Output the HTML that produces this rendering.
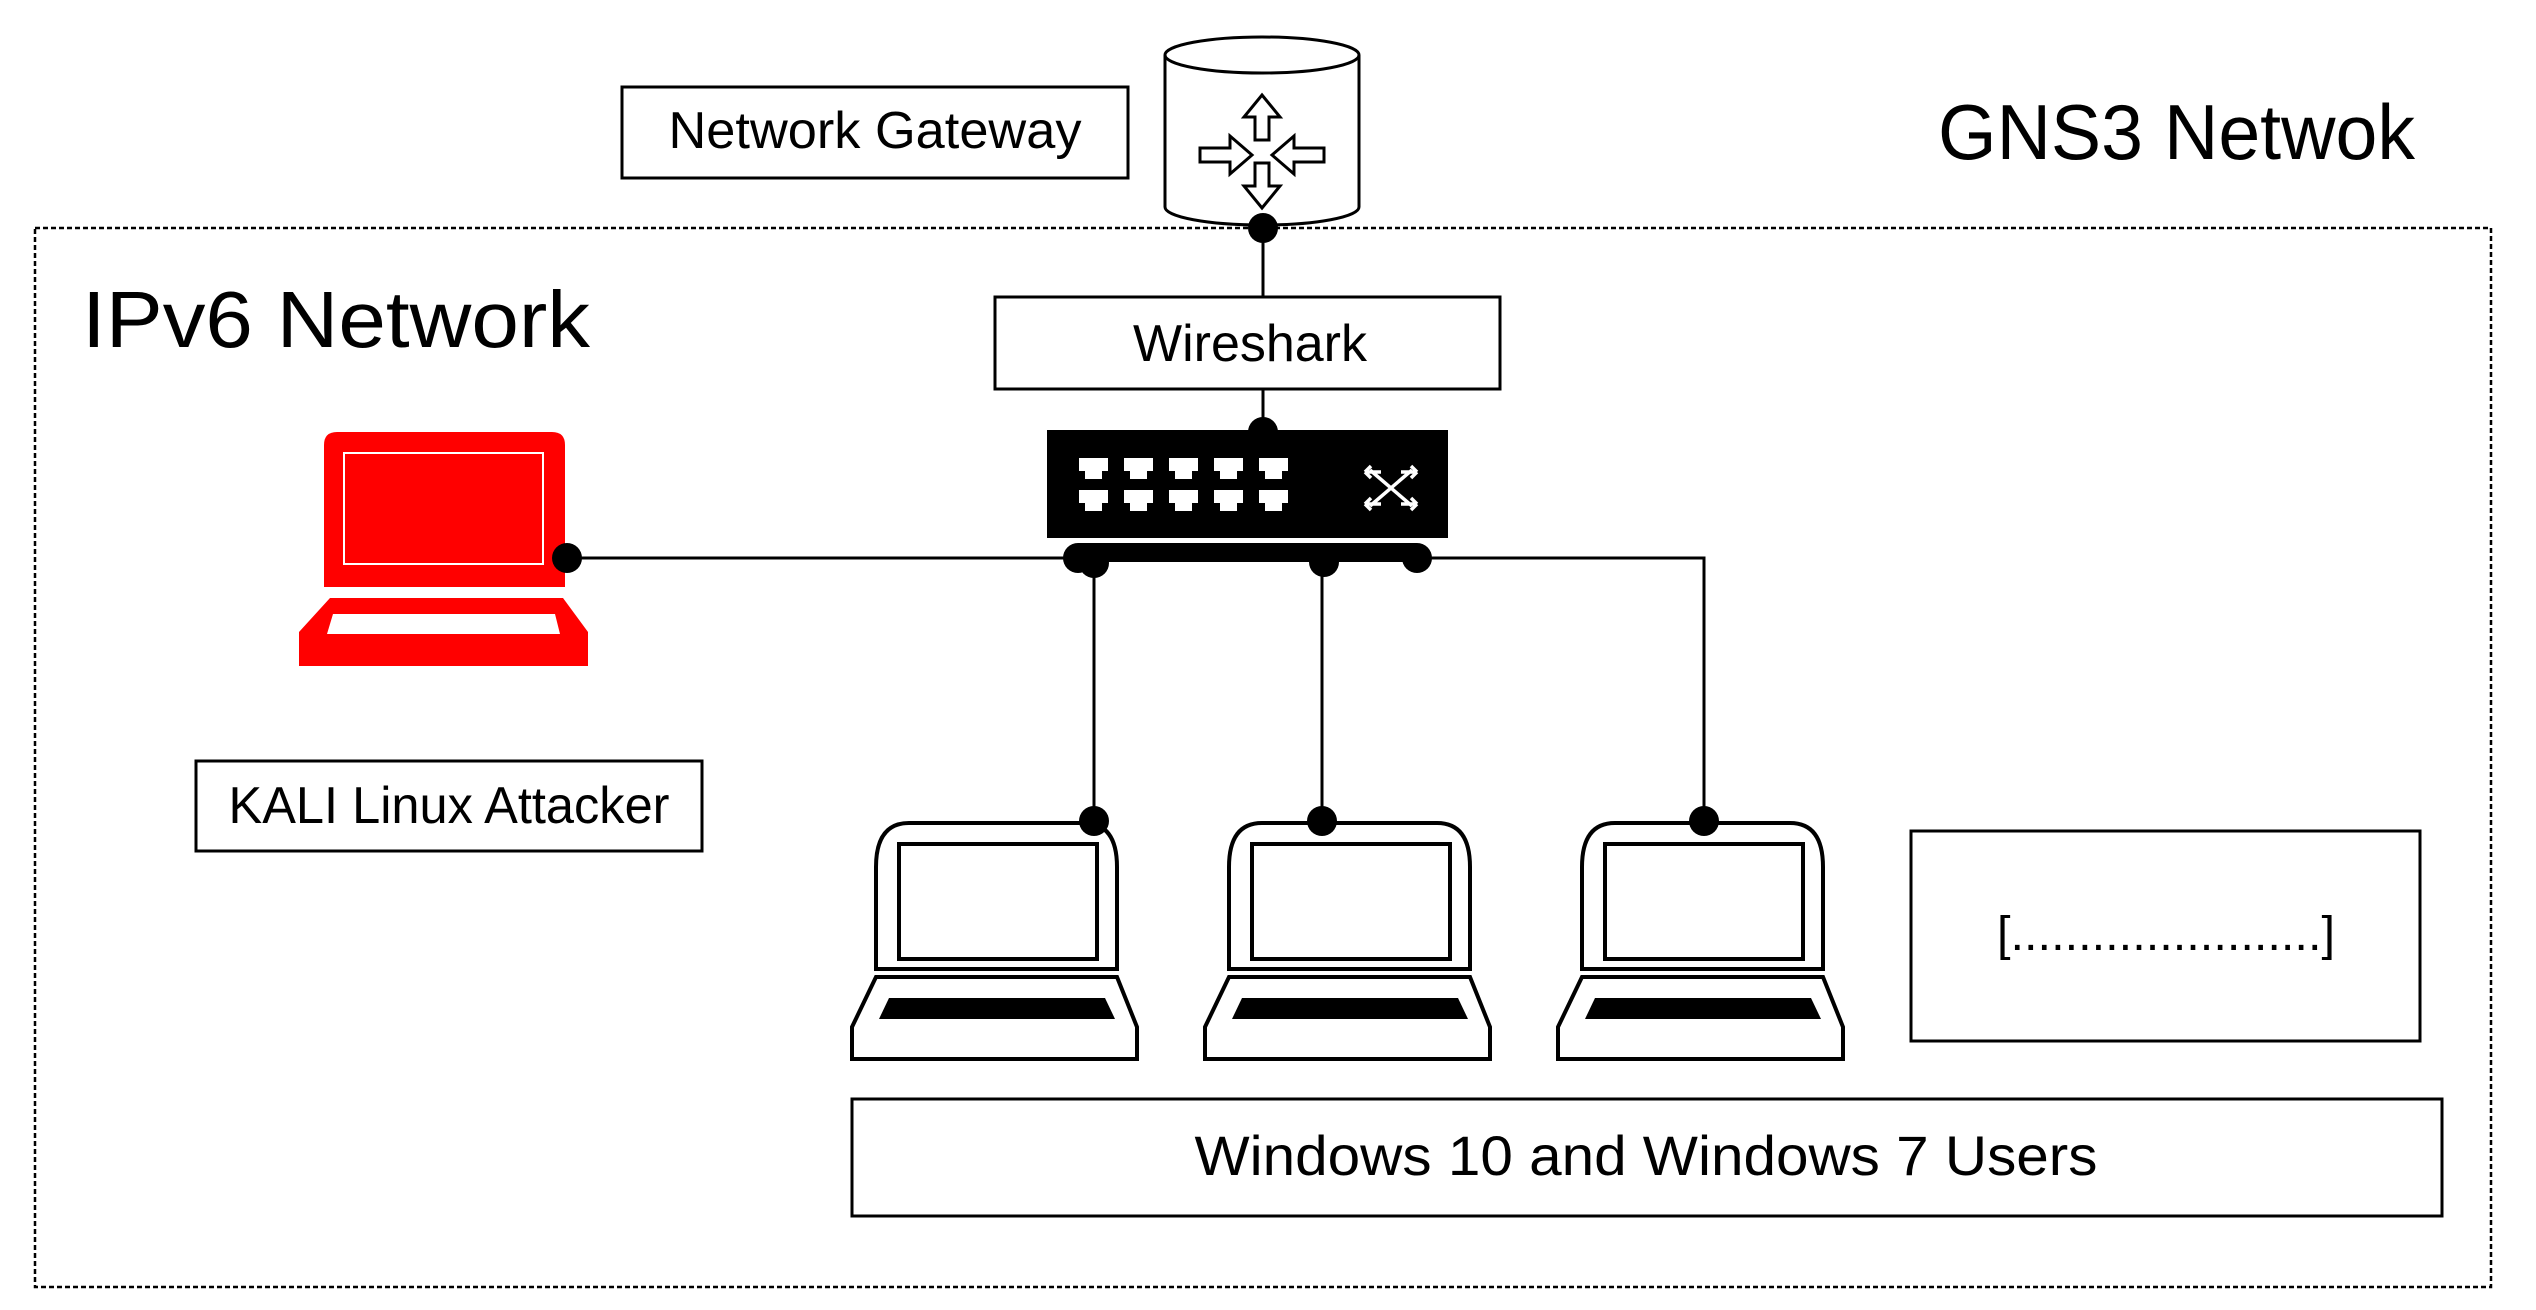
<!DOCTYPE html>
<html><head><meta charset="utf-8"><style>html,body{margin:0;padding:0;background:#fff}svg{display:block}</style></head>
<body>
<svg width="2536" height="1310" viewBox="0 0 2536 1310" xmlns="http://www.w3.org/2000/svg" font-family="Liberation Sans, sans-serif">
<defs>
<g id="lap">
  <path d="M27 48 Q27 4 60 4 L235 4 Q268 4 268 48 L268 150 L27 150 Z" fill="#fff" stroke="#000" stroke-width="4"/>
  <rect x="50" y="25" width="198" height="115" fill="#fff" stroke="#000" stroke-width="4"/>
  <path d="M27 158 L268 158 L288 208 L288 240 L3 240 L3 208 Z" fill="#fff" stroke="#000" stroke-width="4"/>
  <path d="M40 179 L256 179 L266 200 L30 200 Z" fill="#000"/>
</g>
</defs>
<rect x="35" y="228" width="2456" height="1059" fill="none" stroke="#000" stroke-width="2.5" stroke-dasharray="5 3"/>
<text x="1938" y="159" font-size="78" textLength="477" lengthAdjust="spacingAndGlyphs">GNS3 Netwok</text>
<text x="82" y="347" font-size="80" textLength="508" lengthAdjust="spacingAndGlyphs">IPv6 Network</text>

<rect x="622" y="87" width="506" height="91" fill="#fff" stroke="#000" stroke-width="3"/>
<text x="875" y="148" font-size="52" text-anchor="middle" textLength="413" lengthAdjust="spacingAndGlyphs">Network Gateway</text>

<!-- router -->
<path d="M1165 55 L1165 207 A97 18 0 0 0 1359 207 L1359 55" fill="#fff" stroke="#000" stroke-width="3"/>
<ellipse cx="1262" cy="55" rx="97" ry="18" fill="#fff" stroke="#000" stroke-width="3"/>
<g fill="#fff" stroke="#000" stroke-width="3" stroke-linejoin="miter">
  <path d="M1262 95 L1280 117 L1269 117 L1269 140 L1255 140 L1255 117 L1244 117 Z"/>
  <path d="M1262 208 L1280 186 L1269 186 L1269 163 L1255 163 L1255 186 L1244 186 Z"/>
  <path d="M1252 155 L1230 136 L1230 148 L1200 148 L1200 162 L1230 162 L1230 174 Z"/>
  <path d="M1272 155 L1294 136 L1294 148 L1324 148 L1324 162 L1294 162 L1294 174 Z"/>
</g>

<line x1="1263" y1="228" x2="1263" y2="297" stroke="#000" stroke-width="3"/>
<rect x="995" y="297" width="505" height="92" fill="#fff" stroke="#000" stroke-width="3"/>
<text x="1250" y="361" font-size="52" text-anchor="middle" textLength="234" lengthAdjust="spacingAndGlyphs">Wireshark</text>
<line x1="1263" y1="389" x2="1263" y2="432" stroke="#000" stroke-width="3"/>

<!-- switch -->
<rect x="1047" y="430" width="401" height="108" fill="#000"/>
<g fill="#fff">
  <g id="port"><path d="M1079 458 h29 v13 h-6 v8 h-17 v-8 h-6 z"/></g>
  <use href="#port" x="45"/><use href="#port" x="90"/><use href="#port" x="135"/><use href="#port" x="180"/>
  <use href="#port" y="32"/><use href="#port" x="45" y="32"/><use href="#port" x="90" y="32"/><use href="#port" x="135" y="32"/><use href="#port" x="180" y="32"/>
</g>
<g stroke="#fff" stroke-width="3.5" fill="none">
  <path d="M1370 470 L1412 506 M1412 470 L1370 506 M1365 472 h16 M1365 472 l6 -6 M1365 472 l6 6 M1417 472 h-16 M1417 472 l-6 -6 M1417 472 l-6 6 M1365 504 h16 M1365 504 l6 -6 M1365 504 l6 6 M1417 504 h-16 M1417 504 l-6 -6 M1417 504 l-6 6"/>
</g>
<rect x="1078" y="543" width="339" height="19" fill="#000"/>

<!-- wires -->
<g stroke="#000" stroke-width="3" fill="none">
  <line x1="565" y1="558" x2="1078" y2="558"/>
  <path d="M1417 558 H1704 V821"/>
  <line x1="1094" y1="565" x2="1094" y2="821"/>
  <line x1="1322" y1="563" x2="1322" y2="821"/>
</g>

<!-- kali laptop -->
<g fill="#f00">
  <path d="M324 445 Q324 432 337 432 L552 432 Q565 432 565 445 L565 587 L324 587 Z"/>
  <path d="M330 598 L563 598 L588 632 L588 666 L299 666 L299 632 Z"/>
</g>
<rect x="344" y="453" width="199" height="111" fill="none" stroke="#fff" stroke-width="2"/>
<path d="M333 614 L555 614 L560 634 L327 634 Z" fill="#fff"/>

<rect x="196" y="761" width="506" height="90" fill="#fff" stroke="#000" stroke-width="3"/>
<text x="449" y="823" font-size="52" text-anchor="middle" textLength="441" lengthAdjust="spacingAndGlyphs">KALI Linux Attacker</text>

<!-- user laptops -->
<use href="#lap" x="849" y="819"/>
<use href="#lap" x="1202" y="819"/>
<use href="#lap" x="1555" y="819"/>

<rect x="1911" y="831" width="509" height="210" fill="#fff" stroke="#000" stroke-width="3"/>
<text x="2166" y="950" font-size="48" text-anchor="middle" textLength="338" lengthAdjust="spacingAndGlyphs">[.......................]</text>

<rect x="852" y="1099" width="1590" height="117" fill="#fff" stroke="#000" stroke-width="3"/>
<text x="1646" y="1175" font-size="56" text-anchor="middle" textLength="903" lengthAdjust="spacingAndGlyphs">Windows 10 and Windows 7 Users</text>

<!-- dots -->
<g fill="#000">
  <circle cx="1263" cy="228" r="15"/>
  <circle cx="1263" cy="432" r="15"/>
  <circle cx="567" cy="558" r="15"/>
  <circle cx="1078" cy="558" r="15"/>
  <circle cx="1094" cy="563" r="15"/>
  <circle cx="1324" cy="562" r="15"/>
  <circle cx="1417" cy="558" r="15"/>
  <circle cx="1094" cy="821" r="15"/>
  <circle cx="1322" cy="821" r="15"/>
  <circle cx="1704" cy="821" r="15"/>
</g>
</svg>
</body></html>
